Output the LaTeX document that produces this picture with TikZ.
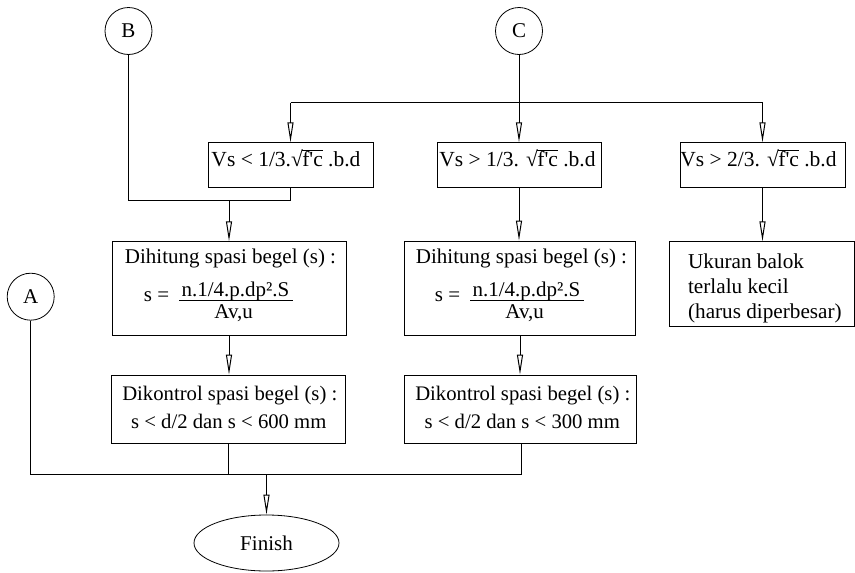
\documentclass[tikz,border=0pt]{standalone}
\usepackage{fontspec}
\setmainfont{Liberation Serif}
\usetikzlibrary{arrows.meta,shapes.geometric}
% square root of f'c, set with the text font
\newcommand\sqfc{\mbox{\char"221A\kern-0.6pt\vbox{\hrule height 0.7pt\kern1.0pt\hbox{f\textquotesingle c}}}}
\begin{document}
\begin{tikzpicture}[x=1pt,y=-1pt,
  font=\fontsize{21}{25}\selectfont,
  line width=0.8pt,
  box/.style={draw, rectangle, inner sep=0pt},
  cond/.style={box, minimum height=44.6pt, text height=10pt, text depth=6.6pt, font=\fontsize{21.5}{25}\selectfont},
  txt/.style={inner sep=0pt},
  note/.style={txt, font=\fontsize{21.2}{25}\selectfont},
  conn/.style={circle, draw, minimum size=47pt, inner sep=0pt},
  arr/.style={-{Triangle[open, length=20pt, width=6pt, line width=1pt]}},
]
\useasboundingbox (0,0) rectangle (855,573);

% off-page connectors
\node[conn] (B) at (128.5,31) {B};
\node[conn] (C) at (519,31) {C};
\node[conn] (A) at (30.7,296.7) {A};

% shear conditions
\node[cond, minimum width=165pt] (c1) at (290.5,165)
  {Vs < 1/3.\sqfc{} .b.d\kern9pt};
\node[cond, minimum width=164pt] (c2) at (519,165)
  {Vs > 1/3. \sqfc{} .b.d\kern3pt};
\node[cond, minimum width=165pt] (c3) at (762.5,165)
  {Vs > 2/3. \sqfc{} .b.d\kern8pt};

% stirrup spacing, left column
\node[box, minimum width=234pt, minimum height=93.3pt] (h1) at (229,288.3) {};
\node[txt, anchor=base] (h1t) at (230.5,263.3) {Dihitung spasi begel (s) :};
\node[txt, anchor=base west] (h1s) at (143.5,301) {s =};
\node[txt, anchor=base] (h1n) at (235.5,296) {n.1/4.p.dp².S};
\node[txt, anchor=base] (h1d) at (233.7,318.7) {Av,u};
\draw[line width=0.7pt] (179,300.3) -- (293,300.3);

% stirrup spacing, middle column
\node[box, minimum width=231.4pt, minimum height=94pt] (h2) at (520,288) {};
\node[txt, anchor=base] (h2t) at (521.5,263.3) {Dihitung spasi begel (s) :};
\node[txt, anchor=base west] (h2s) at (434.5,301) {s =};
\node[txt, anchor=base] (h2n) at (526.5,296) {n.1/4.p.dp².S};
\node[txt, anchor=base] (h2d) at (524.7,318.7) {Av,u};
\draw[line width=0.7pt] (470,300.3) -- (584,300.3);

% beam too small
\node[box, minimum width=185.3pt, minimum height=85pt] (uk) at (761.7,284.2) {};
\node[note, anchor=base west] (uk1) at (687.7,268.3) {Ukuran balok};
\node[note, anchor=base west] (uk2) at (687.7,293.3) {terlalu kecil};
\node[note, anchor=base west] (uk3) at (687.7,318.3) {(harus diperbesar)};

% spacing checks
\node[box, minimum width=234.7pt, minimum height=68.3pt] (k1) at (228.4,409.2) {};
\node[txt, anchor=base, font=\fontsize{20.7}{25}\selectfont] (k1a) at (229.8,400) {Dikontrol spasi begel (s) :};
\node[txt, anchor=base, font=\fontsize{20.7}{25}\selectfont] (k1b) at (228.8,428.3) {s < d/2 dan s < 600 mm};
\node[box, minimum width=232.4pt, minimum height=68.3pt] (k2) at (520.5,409.2) {};
\node[txt, anchor=base, font=\fontsize{20.7}{25}\selectfont] (k2a) at (522.8,400) {Dikontrol spasi begel (s) :};
\node[txt, anchor=base, font=\fontsize{20.7}{25}\selectfont] (k2b) at (522.3,428.3) {s < d/2 dan s < 300 mm};

\node[ellipse, draw, minimum width=145pt, minimum height=56pt, inner sep=0pt] (fin) at (266.5,543) {Finish};

% connectors
\coordinate (cL) at (290.5,102.7);
\coordinate (cR) at (762.5,102.7);
\draw (cL) -- (cR);
\draw[arr] (C) -- (c2);
\draw[arr] (cL) -- (c1);
\draw[arr] (cR) -- (c3);

\coordinate (bB) at (128.5,200);
\coordinate (bJ) at (290.5,200);
\coordinate (bH) at (229,200);
\draw (B) -- (bB) -- (bJ) -- (c1);
\draw[arr] (bH) -- (h1);
\draw[arr] (c2) -- (c2 |- h2.north);
\draw[arr] (c3) -- (c3 |- uk.north);
\draw[arr] (h1) -- (h1 |- k1.north);
\draw[arr] (h2) -- (h2 |- k2.north);

\coordinate (aJ) at (30.7,474.7);
\coordinate (kJ) at (521,474.7);
\coordinate (fJ) at (266.5,474.7);
\draw (A) -- (aJ) -- (kJ) -- (kJ |- k2.south);
\draw (k1) -- (k1 |- aJ);
\draw[arr] (fJ) -- (fin);
\end{tikzpicture}
\end{document}
